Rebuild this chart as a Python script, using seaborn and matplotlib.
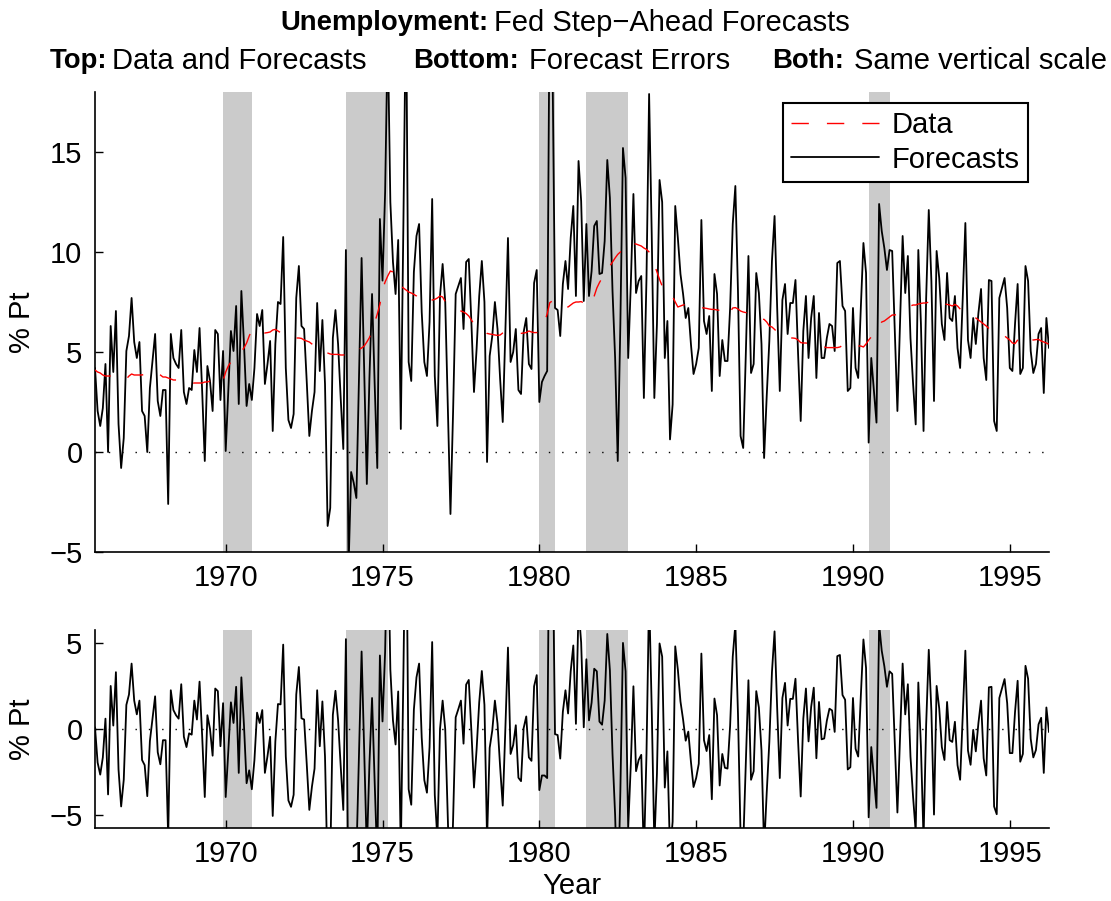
import numpy as np
import pandas as pd
import matplotlib
matplotlib.use("Agg")
import matplotlib.pyplot as plt
import seaborn as sns

# ---------------------------------------------------------------
# Monthly sample: Nov 1965 .. Apr 1996
# ---------------------------------------------------------------
months = pd.period_range("1965-11", "1996-04", freq="M")

# Unemployment rate (data), % points
data = [
    4.1, 4.0,                                                          # 1965 Nov-Dec
    3.95, 3.85, 3.8, 3.8, 3.8, 3.8, 3.75, 3.75, 3.7, 3.65, 3.65, 3.8,  # 1966
    3.9, 3.85, 3.85, 3.85, 3.85, 3.9, 3.9, 3.9, 3.95, 4.0, 3.9, 3.85,  # 1967
    3.75, 3.75, 3.7, 3.65, 3.6, 3.6, 3.6, 3.5, 3.45, 3.45, 3.45, 3.43, # 1968
    3.45, 3.45, 3.45, 3.45, 3.5, 3.5, 3.55, 3.6, 3.75, 3.7, 3.6, 3.55, # 1969
    4.0, 4.3, 4.5, 4.7, 4.85, 4.95, 5.05, 5.2, 5.45, 5.8, 6.1, 6.0,    # 1970
    5.95, 5.95, 6.0, 5.95, 5.97, 6.0, 6.1, 6.13, 6.05, 5.97, 5.85, 5.8, # 1971
    5.75, 5.72, 5.72, 5.7, 5.7, 5.68, 5.6, 5.55, 5.5, 5.4, 5.3, 5.2,   # 1972
    5.05, 5.0, 5.0, 4.95, 4.9, 4.88, 4.88, 4.88, 4.85, 4.85, 4.88, 4.95, # 1973
    5.1, 5.2, 5.15, 5.13, 5.2, 5.3, 5.5, 5.72, 6.1, 6.47, 6.9, 7.38,   # 1974
    8.13, 8.5, 8.8, 9.05, 9.0, 8.8, 8.42, 8.3, 8.2, 8.1, 8.0, 7.95,    # 1975
    7.88, 7.8, 7.6, 7.5, 7.47, 7.5, 7.55, 7.6, 7.63, 7.7, 7.8, 7.75,   # 1976
    7.52, 7.45, 7.4, 7.3, 7.22, 7.15, 7.05, 7.0, 6.92, 6.8, 6.6, 6.4,  # 1977
    6.33, 6.25, 6.18, 6.1, 5.93, 5.9, 5.88, 5.85, 5.83, 5.85, 5.95, 6.0, # 1978
    5.97, 5.95, 5.93, 5.93, 5.93, 5.93, 5.95, 5.97, 6.05, 6.0, 5.97, 5.97, # 1979
    6.05, 6.2, 6.5, 6.9, 7.47, 7.55, 7.5, 7.45, 7.52, 7.4, 7.3, 7.25,  # 1980
    7.35, 7.45, 7.5, 7.5, 7.52, 7.45, 7.35, 7.3, 7.52, 7.8, 8.2, 8.47, # 1981
    8.7, 8.9, 9.08, 9.3, 9.5, 9.7, 9.88, 10.0, 10.2, 10.35, 10.47, 10.45, # 1982
    10.42, 10.4, 10.35, 10.3, 10.2, 10.13, 10.0, 9.75, 9.38, 9.0, 8.63, 8.3, # 1983
    8.1, 7.85, 7.8, 7.77, 7.5, 7.25, 7.3, 7.35, 7.38, 7.35, 7.3, 7.27, # 1984
    7.25, 7.22, 7.22, 7.2, 7.18, 7.15, 7.13, 7.13, 7.1, 7.08, 7.05, 6.8, # 1985
    6.85, 7.0, 7.2, 7.22, 7.15, 7.05, 7.0, 6.97, 6.97, 6.9, 6.85, 6.75, # 1986
    6.7, 6.65, 6.63, 6.5, 6.3, 6.25, 6.13, 6.0, 5.9, 5.8, 5.72, 5.7,   # 1987
    5.7, 5.7, 5.68, 5.6, 5.47, 5.45, 5.45, 5.42, 5.42, 5.4, 5.4, 5.38, # 1988
    5.3, 5.25, 5.22, 5.22, 5.22, 5.22, 5.22, 5.25, 5.33, 5.35, 5.4, 5.42, # 1989
    5.4, 5.35, 5.3, 5.3, 5.25, 5.4, 5.6, 5.75, 5.88, 6.05, 6.3, 6.5,   # 1990
    6.55, 6.65, 6.75, 6.85, 6.85, 6.9, 6.95, 7.0, 7.1, 7.2, 7.3, 7.35, # 1991
    7.35, 7.4, 7.43, 7.45, 7.45, 7.5, 7.5, 7.52, 7.55, 7.5, 7.45, 7.4, # 1992
    7.38, 7.35, 7.3, 7.38, 7.3, 7.15, 6.95, 6.9, 6.85, 6.78, 6.75, 6.7, # 1993
    6.6, 6.5, 6.4, 6.3, 6.18, 6.1, 6.05, 6.0, 5.9, 5.85, 5.8, 5.7,     # 1994
    5.6, 5.45, 5.42, 5.6, 5.8, 5.65, 5.63, 5.63, 5.62, 5.6, 5.62, 5.63, # 1995
    5.55, 5.5, 5.45, 5.38,                                             # 1996 Jan-Apr
]

# Fed step-ahead forecasts, % points
forecasts = [
    4.2, 2.05, 1.3, 2.2, 4.4, 0.0, 6.3, 4.0, 7.05, 1.4,
    -0.8, 0.7, 5.05, 5.8, 7.7, 5.5, 4.7, 5.5, 2.05, 1.8,
    0.0, 3.2, 4.55, 5.9, 2.55, 1.8, 3.1, 3.1, -2.6, 5.9,
    4.7, 4.4, 4.2, 6.1, 3.0, 2.4, 3.2, 3.1, 5.1, 4.0,
    6.2, 3.05, -0.45, 4.3, 3.55, 2.05, 6.1, 5.9, 2.6, 5.05,
    0.05, 3.0, 6.05, 5.05, 7.3, 2.4, 8.05, 5.4, 2.3, 3.4,
    2.6, 4.2, 6.9, 6.3, 7.1, 3.4, 4.4, 5.55, 1.05, 5.4,
    7.5, 7.4, 10.75, 4.2, 1.6, 1.2, 1.9, 7.7, 9.3, 6.3,
    6.15, 3.55, 0.8, 2.05, 3.0, 7.45, 4.05, 6.6, 3.4, -3.7,
    -2.8, 5.7, 7.1, 5.4, 2.7, 0.15, 10.1, -5.8, -1.0, -1.55,
    -2.3, 3.7, 9.7, 4.05, -1.6, 3.7, 7.9, 3.4, -0.8, 11.65,
    8.57, 13.0, 21.0, 12.5, 9.5, 7.9, 10.6, 1.15, 11.5, 23.0,
    4.5, 3.55, 9.0, 10.8, 11.4, 7.0, 4.5, 3.8, 6.5, 12.65,
    3.8, 1.3, 7.8, 9.4, 7.5, 2.3, -3.1, 2.0, 7.9, 8.3,
    8.7, 6.15, 9.5, 9.65, 6.5, 3.0, 5.15, 7.8, 9.55, 7.5,
    -0.5, 4.8, 5.8, 7.5, 6.15, 3.65, 1.5, 6.0, 10.7, 4.5,
    5.0, 6.15, 3.1, 2.9, 6.0, 6.7, 4.4, 4.15, 8.45, 9.1,
    2.5, 3.5, 3.8, 4.05, 24.0, 20.0, 7.2, 7.1, 5.8, 8.4,
    9.55, 8.15, 10.7, 12.3, 7.8, 14.55, 12.55, 7.55, 11.4, 7.8,
    9.05, 11.3, 11.55, 8.9, 8.95, 10.55, 14.6, 12.7, 8.05, 4.7,
    -0.45, 6.4, 15.2, 13.7, 4.7, 8.4, 12.9, 7.95, 8.55, 8.8,
    2.7, 8.7, 17.9, 10.9, 2.7, 6.4, 13.6, 12.5, 4.7, 6.55,
    0.63, 2.38, 12.3, 10.7, 8.9, 7.9, 6.7, 7.2, 5.4, 3.9,
    4.4, 5.2, 11.6, 6.55, 5.9, 6.8, 3.05, 8.9, 7.9, 3.8,
    5.6, 4.55, 4.55, 7.2, 11.4, 13.3, 8.05, 0.8, 0.2, 4.9,
    9.8, 3.95, 4.4, 8.95, 7.95, 5.4, -0.3, 2.8, 5.55, 9.55,
    11.8, 7.2, 3.05, 7.6, 8.4, 5.9, 7.45, 7.45, 8.6, 4.9,
    1.55, 6.05, 7.8, 4.7, 6.7, 7.8, 3.7, 6.95, 4.7, 4.7,
    5.7, 6.4, 6.3, 5.05, 9.45, 9.55, 7.3, 7.05, 3.05, 3.2,
    7.2, 4.2, 3.7, 7.2, 10.45, 8.95, 0.47, 4.7, 3.05, 1.47,
    12.4, 11.05, 10.2, 9.1, 10.1, 10.05, 6.05, 2.05, 6.5, 10.8,
    7.95, 9.8, 5.7, 3.4, 1.38, 10.1, 6.4, 1.05, 7.7, 12.1,
    8.55, 2.55, 10.05, 8.7, 6.4, 5.6, 8.95, 6.7, 6.55, 7.8,
    5.2, 4.2, 7.7, 11.45, 5.6, 4.7, 6.7, 5.4, 6.95, 8.15,
    4.7, 3.6, 8.6, 8.55, 1.55, 1.05, 7.7, 8.2, 8.7, 7.2,
    4.2, 4.05, 6.4, 8.4, 3.9, 4.2, 9.3, 8.55, 5.05, 3.95,
    4.4, 5.9, 6.2, 2.95, 6.7, 5.2,
]

# NBER recessions (peak month, trough month)
recessions = [("1969-12", "1970-11"), ("1973-11", "1975-03"),
              ("1980-01", "1980-07"), ("1981-07", "1982-11"),
              ("1990-07", "1991-03")]

year_ticks = [1970, 1975, 1980, 1985, 1990, 1995]
top_yticks = [-5, 0, 5, 10, 15]
bot_yticks = [-5, 0, 5]


def decimal_year(p):
    return p.year + (p.month - 1) / 12.0


t = np.array([decimal_year(p) for p in months])
df = pd.DataFrame({"year": t, "data": data, "forecast": forecasts})
df["error"] = df["forecast"] - df["data"]

sns.set_style("ticks")
plt.rcParams["font.family"] = ["Liberation Sans", "DejaVu Sans"]
for key in ("text.color", "axes.labelcolor", "xtick.color", "ytick.color",
            "axes.edgecolor"):
    plt.rcParams[key] = "black"
FS = 21

fig = plt.figure(figsize=(11.11, 9.01), dpi=100)
W, H = 1111.0, 901.0
ax_top = fig.add_axes([95 / W, 1 - 552 / H, 954 / W, 460 / H])
ax_bot = fig.add_axes([95 / W, 1 - 828 / H, 954 / W, 198 / H])

SHADE = "#cbcbcb"
DOTS = (0, (1, 8.6))

for ax, ylim, yt in ((ax_top, (-5, 18), top_yticks),
                     (ax_bot, (-5.75, 5.75), bot_yticks)):
    for a, b in recessions:
        ax.axvspan(decimal_year(pd.Period(a, "M")), decimal_year(pd.Period(b, "M")),
                   color=SHADE, lw=0, zorder=0)
    ax.axhline(0, color="black", lw=1.0, linestyle=DOTS, zorder=1)
    ax.set_xlim(t[0], t[-1])
    ax.set_ylim(*ylim)
    ax.set_xticks(year_ticks)
    ax.set_yticks(yt)
    ax.tick_params(direction="in", length=6, width=1, labelsize=FS, colors="black")
    ax.tick_params(axis="x", pad=9)
    ax.tick_params(axis="y", pad=9)
    for side in ("top", "right"):
        ax.spines[side].set_visible(False)
    for side in ("left", "bottom"):
        ax.spines[side].set_linewidth(1.2)
        ax.spines[side].set_color("black")

sns.lineplot(data=df, x="year", y="data", ax=ax_top, color="red", lw=1.0,
             linestyle=(0, (12.5, 13)), label="Data", zorder=3)
sns.lineplot(data=df, x="year", y="forecast", ax=ax_top, color="black", lw=1.3,
             label="Forecasts", zorder=2)
sns.lineplot(data=df, x="year", y="error", ax=ax_bot, color="black", lw=1.3,
             legend=False, zorder=2)

for ax in (ax_top, ax_bot):
    ax.set_xlabel("")
    ax.set_ylabel("")

leg = ax_top.legend(loc="upper right", bbox_to_anchor=(0.978, 0.976),
                    borderaxespad=0, fontsize=FS, frameon=True, fancybox=False,
                    handlelength=3.0, handletextpad=0.45, labelspacing=0.22,
                    borderpad=0.28)
leg.get_frame().set_edgecolor("black")
leg.get_frame().set_linewidth(1.5)
leg.get_frame().set_alpha(1)

# axis labels
fig.text(22 / W, 1 - 322 / H, "% Pt", rotation=90, ha="center", va="center", fontsize=FS)
fig.text(22 / W, 1 - 729 / H, "% Pt", rotation=90, ha="center", va="center", fontsize=FS)
fig.text(572 / W, 1 - 886 / H, "Year", ha="center", va="center", fontsize=FS)

# two-line heading: bold key words end at the given x, plain text starts at the next x
BOLD_FS = 19.8
line1 = [("Unemployment:", 489, "Fed Step\u2212Ahead Forecasts", 494)]
line2 = [("Top:", 107, "Data and Forecasts", 112),
         ("Bottom:", 519, "Forecast Errors", 529),
         ("Both:", 844, "Same vertical scale", 854)]
for runs, yc in ((line1, 23), (line2, 61)):
    for bold_txt, x_end, plain_txt, x_start in runs:
        fig.text(x_end / W, 1 - yc / H, bold_txt, ha="right", va="center",
                 fontsize=BOLD_FS, fontweight="bold")
        fig.text(x_start / W, 1 - yc / H, plain_txt, ha="left", va="center",
                 fontsize=FS)

fig.savefig("out.png", dpi=100)
